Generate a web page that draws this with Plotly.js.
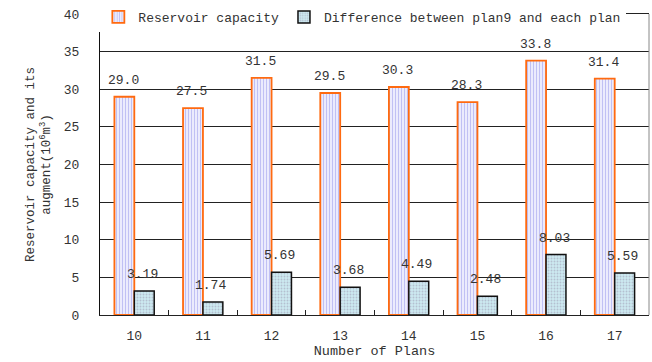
<!DOCTYPE html>
<html>
<head>
<meta charset="utf-8">
<script src="https://cdn.plot.ly/plotly-3.0.1.min.js"></script>
<style>
  html, body { margin: 0; padding: 0; background: #fff; }
  #chart { width: 652px; height: 362px; }
</style>
</head>
<body>
<div id="chart"></div>
<script>
// Plans and their reservoir capacity / augment (10^6 m^3)
const plans = ['10', '11', '12', '13', '14', '15', '16', '17'];
const capacity = [29.0, 27.5, 31.5, 29.5, 30.3, 28.3, 33.8, 31.4];
const difference = [3.19, 1.74, 5.69, 3.68, 4.49, 2.48, 8.03, 5.59];
const seriesNames = ['Reservoir capacity', 'Difference between plan9 and each plan'];

const FONT = 'Liberation Mono, DejaVu Sans Mono, monospace';
const TEXT = '#333';

const traces = [
  {
    type: 'bar',
    name: seriesNames[0],
    x: plans,
    y: capacity,
    marker: {
      color: '#eeeeff',
      line: { color: '#ff6a10', width: 1.8 },
      pattern: { shape: '|', fgcolor: '#c0c0f4', bgcolor: '#f0f0ff', size: 3, solidity: 0.4 }
    },
    hoverinfo: 'x+y'
  },
  {
    type: 'bar',
    name: seriesNames[1],
    x: plans,
    y: difference,
    marker: {
      color: '#cce8ef',
      line: { color: '#111', width: 1.5 },
      pattern: { shape: '.', fgcolor: '#b4c0d0', bgcolor: '#cdeaf1', size: 3, solidity: 0.3 }
    },
    hoverinfo: 'x+y'
  }
];

// value labels above each bar; on a category axis annotations use the category index
const annotations = [];
plans.forEach((p, i) => {
  annotations.push({
    x: i, y: capacity[i], xref: 'x', yref: 'y',
    text: capacity[i].toFixed(1), showarrow: false,
    xshift: -11, yshift: 7, yanchor: 'bottom',
    font: { family: FONT, size: 13, color: TEXT }
  });
  annotations.push({
    x: i, y: difference[i], xref: 'x', yref: 'y',
    text: difference[i].toFixed(2), showarrow: false,
    xshift: 8, yshift: 7, yanchor: 'bottom',
    font: { family: FONT, size: 13, color: TEXT }
  });
});

const layout = {
  width: 652, height: 362,
  margin: { l: 100, r: 3, t: 14, b: 47, autoexpand: false },
  paper_bgcolor: '#fff', plot_bgcolor: '#fff',
  font: { family: FONT, size: 13, color: TEXT },
  barmode: 'group',
  bargap: 0.42,
  bargroupgap: 0,
  showlegend: true,
  legend: {
    orientation: 'h',
    x: -0.003, xanchor: 'left',
    y: 1.04, yanchor: 'top',
    bgcolor: '#fff', borderwidth: 0,
    font: { family: FONT, size: 13, color: TEXT },
    itemwidth: 30,
    traceorder: 'normal'
  },
  xaxis: {
    type: 'category',
    range: [-0.5, plans.length - 0.5],
    showline: true, linecolor: '#222', linewidth: 1, mirror: true,
    ticks: 'inside', ticklen: 5, tickcolor: '#222', tickson: 'boundaries',
    ticklabelstandoff: 8,
    showgrid: false,
    tickfont: { family: FONT, size: 13, color: TEXT },
    title: { text: 'Number of Plans', standoff: 2, font: { family: FONT, size: 13.5, color: TEXT } }
  },
  yaxis: {
    range: [0, 40], dtick: 5,
    showline: true, linecolor: '#111', linewidth: 1,
    ticks: '', ticklabelstandoff: 17,
    showgrid: true, gridcolor: '#222', gridwidth: 1,
    zeroline: false,
    tickfont: { family: FONT, size: 13, color: TEXT },
    title: {
      text: 'Reservoir capacity and its<br>augment(10<sup>6</sup>m<sup>3</sup>)',
      standoff: 10,
      font: { family: FONT, size: 12.5, color: TEXT }
    }
  },
  shapes: [
    { type: 'line', xref: 'paper', yref: 'paper', x0: 1, x1: 1, y0: 0, y1: 1,
      line: { color: '#888', width: 1 } }
  ],
  annotations: annotations
};

Plotly.newPlot('chart', traces, layout, { staticPlot: true });
</script>
</body>
</html>
